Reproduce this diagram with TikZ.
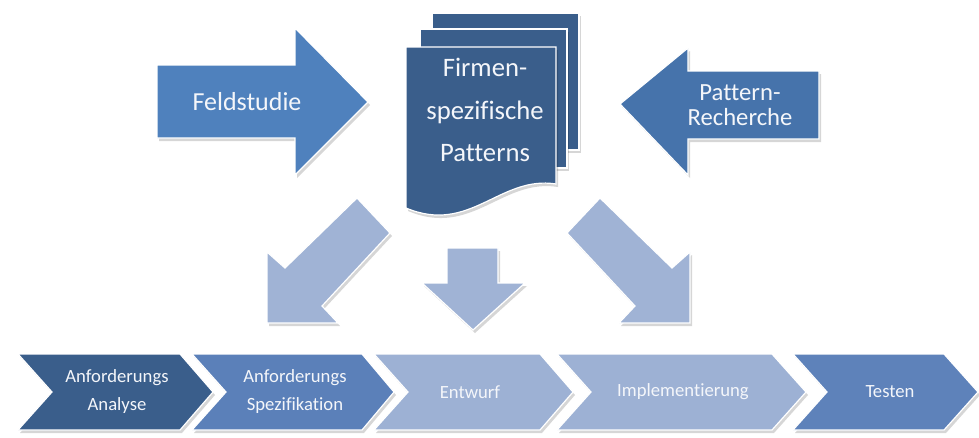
\documentclass[tikz,border=0pt]{standalone}
\usepackage{fontspec}
\setmainfont{Carlito}[RawFeature={-liga;-clig;-dlig}]
\definecolor{docblue}{HTML}{3A5E8B}
\definecolor{feldblue}{HTML}{4F81BD}
\definecolor{recblue}{HTML}{4673AB}
\definecolor{paleblue}{HTML}{A0B3D5}
\definecolor{specblue}{HTML}{5B80B9}
\definecolor{stepgray}{HTML}{9DB1D4}
\definecolor{testblue}{HTML}{5E82BA}
\definecolor{labelwhite}{HTML}{F4F6FA}

\tikzset{
  blockshape/.style={draw=white, line width=0.9pt, line join=miter},
  shade/.style={fill=black, opacity=0.16, shift={(2,3)}},
  blocklabel/.style={text=labelwhite, align=center, inner sep=0pt},
}

% outlines of the big block arrows
\def\shpFeld{(157,65) -- (295,65) -- (295,28) -- (368,102) -- (295,175) -- (295,138) -- (157,138) -- cycle}
\def\shpRech{(819,71) -- (688,71) -- (688,48) -- (620,104) -- (688,175) -- (688,139) -- (819,139) -- cycle}
\def\shpLeftDown{(357,198) -- (390,233) -- (322,306) -- (338,323) -- (267,323) -- (267,252) -- (285,268) -- cycle}
\def\shpRightDown{(600,198) -- (567,233) -- (635,306) -- (619,323) -- (690,323) -- (690,252) -- (672,268) -- cycle}
\def\shpDown{(447,248) -- (498,248) -- (498,283) -- (525,283) -- (473,330) -- (422,283) -- (447,283) -- cycle}
% document stack
\def\shpPageBack{(432,13) rectangle (579,150)}
\def\shpPageMid{(420,29) rectangle (567,168)}
\def\shpPageFront{(406,47) -- (556,47) -- (556,184) .. controls (500,175) and (470,235) .. (406,208) -- cycle}
% process chevrons
\def\shpStepA{(18,354) -- (180,354) -- (213,392) -- (180,430) -- (18,430) -- (52,392) -- cycle}
\def\shpStepB{(192,354) -- (362,354) -- (394,392) -- (362,430) -- (192,430) -- (226,392) -- cycle}
\def\shpStepC{(374,354) -- (540,354) -- (573,392) -- (540,430) -- (374,430) -- (408,392) -- cycle}
\def\shpStepD{(557,354) -- (772,354) -- (806,392) -- (772,430) -- (557,430) -- (591,392) -- cycle}
\def\shpStepE{(793,354) -- (944,354) -- (978,392) -- (944,430) -- (793,430) -- (827,392) -- cycle}

\begin{document}
\begin{tikzpicture}[x=0.75pt, y=-0.75pt]
\useasboundingbox (0,0) rectangle (979,437);

% inputs
\fill[shade] \shpFeld;
\filldraw[blockshape, fill=feldblue] \shpFeld;
\fill[shade] \shpRech;
\filldraw[blockshape, fill=recblue] \shpRech;

% pattern documents
\fill[shade] \shpPageBack;
\filldraw[blockshape, fill=docblue] \shpPageBack;
\fill[shade] \shpPageMid;
\filldraw[blockshape, fill=docblue] \shpPageMid;
\fill[shade] \shpPageFront;
\filldraw[blockshape, fill=docblue] \shpPageFront;

% outputs into the process
\fill[shade] \shpLeftDown;
\filldraw[blockshape, fill=paleblue] \shpLeftDown;
\fill[shade] \shpDown;
\filldraw[blockshape, fill=paleblue] \shpDown;
\fill[shade] \shpRightDown;
\filldraw[blockshape, fill=paleblue] \shpRightDown;

% process steps
\fill[shade] \shpStepA;
\filldraw[blockshape, fill=docblue] \shpStepA;
\fill[shade] \shpStepB;
\filldraw[blockshape, fill=specblue] \shpStepB;
\fill[shade] \shpStepC;
\filldraw[blockshape, fill=stepgray] \shpStepC;
\fill[shade] \shpStepD;
\filldraw[blockshape, fill=stepgray] \shpStepD;
\fill[shade] \shpStepE;
\filldraw[blockshape, fill=testblue] \shpStepE;

% labels
\node[blocklabel, font=\fontsize{19.5}{24}\selectfont] (feld) at (247,102) {Feldstudie};
\node[blocklabel, font=\fontsize{18.5}{19}\selectfont] (recherche) at (740,105) {Pattern-\\Recherche};
\node[blocklabel, font=\fontsize{20}{32}\selectfont] (patterns) at (485,110) {Firmen-\\spezifische\\Patterns};
\node[blocklabel, font=\fontsize{14}{21}\selectfont] (analyse) at (117,392) {Anforderungs\\Analyse};
\node[blocklabel, font=\fontsize{14}{21}\selectfont] (spez) at (295,392) {Anforderungs\\Spezifikation};
\node[blocklabel, font=\fontsize{14}{21}\selectfont] (entwurf) at (470,392) {Entwurf};
\node[blocklabel, font=\fontsize{14}{21}\selectfont] (impl) at (683,392) {Implementierung};
\node[blocklabel, font=\fontsize{14}{21}\selectfont] (testen) at (890,392) {Testen};
\end{tikzpicture}
\end{document}
